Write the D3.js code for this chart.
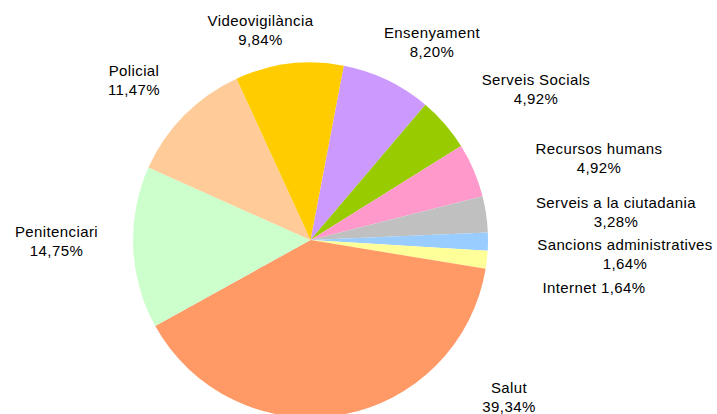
<!DOCTYPE html>
<html>
<head>
<meta charset="utf-8">
<script src="https://cdn.jsdelivr.net/npm/d3@7"></script>
<style>
  html, body { margin: 0; padding: 0; background: #fff; }
  svg text { font-family: "Liberation Sans", Arial, sans-serif; font-size: 15px; letter-spacing: 0.4px; fill: #000; }
</style>
</head>
<body>
<svg id="chart" width="717" height="414"></svg>
<script>
// Data (slice order clockwise, starting just right of 12 o'clock)
const categories = ["Ensenyament", "Serveis Socials", "Recursos humans", "Serveis a la ciutadania",
  "Sancions administratives", "Internet", "Salut", "Penitenciari", "Policial", "Videovigilància"];
const values = [8.20, 4.92, 4.92, 3.28, 1.64, 1.64, 39.34, 14.75, 11.47, 9.84];
const valueLabels = ["8,20%", "4,92%", "4,92%", "3,28%", "1,64%", "1,64%", "39,34%", "14,75%", "11,47%", "9,84%"];

// Styles
const colors = ["#CC99FF", "#99CC00", "#FF99CC", "#C0C0C0", "#99CCFF", "#FFFF99",
  "#FF9966", "#CCFFCC", "#FFCC99", "#FFCC00"];

// Layout
const cx = 310.5, cy = 240, radius = 177.5;
const startDeg = 10.8;
// label layout: centre x, first baseline y, single-line flag
const labelLayout = [
  {x: 432, y: 38}, {x: 536, y: 85}, {x: 599, y: 154}, {x: 616, y: 208},
  {x: 625, y: 250}, {x: 594, y: 293, single: true}, {x: 509, y: 393},
  {x: 56.5, y: 237}, {x: 134, y: 76}, {x: 260.5, y: 26}
];
const lineGap = 18.5;

const svg = d3.select("#chart");
const start = startDeg * Math.PI / 180;
const pie = d3.pie().sort(null).value(d => d)
  .startAngle(start).endAngle(start + 2 * Math.PI);
const arc = d3.arc().innerRadius(0).outerRadius(radius);

const g = svg.append("g").attr("transform", `translate(${cx},${cy})`);
g.selectAll("path").data(pie(values)).join("path")
  .attr("d", arc)
  .attr("fill", (d, i) => colors[i]);

const labels = svg.append("g");
categories.forEach((c, i) => {
  const L = labelLayout[i];
  if (L.single) {
    labels.append("text").attr("x", L.x).attr("y", L.y).attr("text-anchor", "middle")
      .text(c + " " + valueLabels[i]);
  } else {
    const t = labels.append("text").attr("text-anchor", "middle");
    t.append("tspan").attr("x", L.x).attr("y", L.y).text(c);
    t.append("tspan").attr("x", L.x).attr("y", L.y + lineGap).text(valueLabels[i]);
  }
});
</script>
</body>
</html>
